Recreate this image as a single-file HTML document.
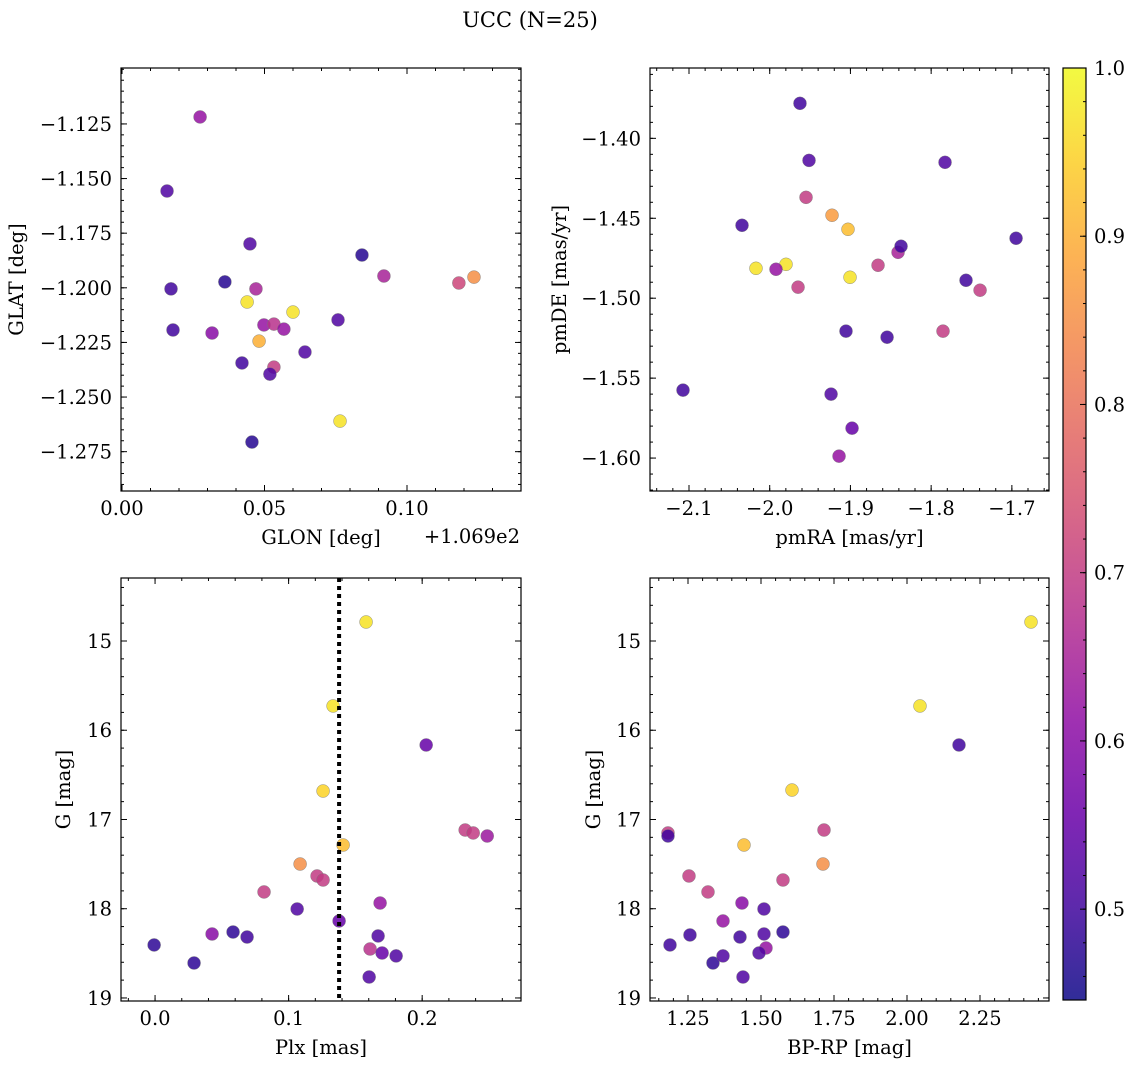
<!DOCTYPE html>
<html><head><meta charset="utf-8"><style>
body{margin:0;background:#fff;}
svg{display:block;font-family:"DejaVu Serif","Liberation Serif",serif;}
</style></head><body>
<svg id="fig" width="1136" height="1068" viewBox="0 0 1136 1068">
<text x="530" y="27" font-size="21" text-anchor="middle">UCC (N=25)</text>
</svg>
<script>
// Panel 1: GLON offset vs GLAT
const p1x=[0.0274,0.0158,0.0172,0.0179,0.0361,0.0449,0.0439,0.0470,0.0316,0.0498,0.0533,0.0568,0.0481,0.0421,0.0533,0.0519,0.0600,0.0642,0.0456,0.0758,0.0765,0.0842,0.0919,0.1182,0.1235];
const p1y=[-1.1218,-1.1557,-1.2005,-1.2193,-1.1973,-1.1799,-1.2065,-1.2005,-1.2207,-1.2170,-1.2166,-1.2189,-1.2244,-1.2344,-1.2363,-1.2395,-1.2111,-1.2294,-1.2706,-1.2147,-1.2610,-1.1850,-1.1946,-1.1978,-1.1951];
const p1c=[0.62,0.52,0.5,0.5,0.47,0.52,0.97,0.65,0.6,0.62,0.68,0.62,0.9,0.5,0.7,0.52,0.97,0.52,0.47,0.52,0.97,0.47,0.65,0.72,0.85];
// Panel 2: pmRA vs pmDE
const p2x=[-1.9625,-1.9513,-1.7828,-1.955,-2.0343,-1.9228,-1.903,-2.017,-1.9798,-1.9922,-1.9649,-1.9005,-1.8658,-1.841,-1.8373,-1.6948,-1.7568,-1.7394,-1.9055,-1.7853,-1.8546,-1.924,-1.898,-1.9141,-2.1074];
const p2y=[-1.3781,-1.4138,-1.415,-1.4369,-1.4544,-1.4481,-1.4569,-1.4813,-1.4788,-1.4819,-1.4931,-1.4869,-1.4794,-1.4713,-1.4675,-1.4625,-1.4888,-1.495,-1.5206,-1.5206,-1.5244,-1.56,-1.5813,-1.5988,-1.5575];
const p2c=[0.5,0.52,0.52,0.7,0.5,0.87,0.92,0.97,0.97,0.62,0.7,0.97,0.7,0.65,0.5,0.5,0.5,0.7,0.5,0.7,0.5,0.52,0.55,0.62,0.5];
// Panel 3: Plx vs G
const p3x=[0.158,0.1333,0.203,0.1258,0.1408,0.2322,0.2382,0.2487,0.1086,0.1213,0.1258,0.0816,0.1064,0.1685,0.1378,-0.0007,0.0427,0.0584,0.0689,0.0292,0.161,0.167,0.17,0.1805,0.1603];
const p3y=[14.787,15.728,16.165,16.681,17.286,17.118,17.151,17.185,17.499,17.633,17.678,17.812,18.003,17.936,18.137,18.406,18.283,18.261,18.317,18.608,18.451,18.305,18.496,18.529,18.765];
const p3c=[0.97,0.97,0.55,0.95,0.92,0.7,0.7,0.63,0.85,0.7,0.7,0.7,0.52,0.62,0.55,0.48,0.6,0.48,0.5,0.48,0.68,0.52,0.55,0.52,0.52];
const plxLine=0.1378;
// Panel 4: BP-RP vs G
const p4x=[2.4247,2.0445,2.1781,1.6062,1.4418,1.7158,1.1815,1.1815,1.7123,1.2534,1.5753,1.3185,1.5103,1.4349,1.3699,1.1884,1.2568,1.4281,1.5103,1.5753,1.5171,1.4932,1.3356,1.3699,1.4384];
const p4y=[14.787,15.728,16.165,16.67,17.286,17.118,17.151,17.185,17.499,17.633,17.678,17.812,18.003,17.936,18.137,18.406,18.294,18.317,18.283,18.261,18.44,18.496,18.608,18.529,18.765];
const p4c=[0.97,0.97,0.5,0.95,0.92,0.7,0.7,0.5,0.85,0.7,0.7,0.7,0.52,0.6,0.62,0.5,0.5,0.5,0.52,0.48,0.62,0.52,0.48,0.52,0.52];
const p1xt=[0,0.05,0.10], p1xl=["0.00","0.05","0.10"];
const p1yt=[-1.125,-1.15,-1.175,-1.2,-1.225,-1.25,-1.275], p1yl=["−1.125","−1.150","−1.175","−1.200","−1.225","−1.250","−1.275"];
const p2xt=[-2.1,-2.0,-1.9,-1.8,-1.7], p2xl=["−2.1","−2.0","−1.9","−1.8","−1.7"];
const p2yt=[-1.40,-1.45,-1.50,-1.55,-1.60], p2yl=["−1.40","−1.45","−1.50","−1.55","−1.60"];
const p3xt=[0,0.1,0.2], p3xl=["0.0","0.1","0.2"];
const gt=[15,16,17,18,19], gl=["15","16","17","18","19"];
const p4xt=[1.25,1.5,1.75,2.0,2.25], p4xl=["1.25","1.50","1.75","2.00","2.25"];
const cbt=[0.5,0.6,0.7,0.8,0.9,1.0], cbl=["0.5","0.6","0.7","0.8","0.9","1.0"];
const cmin=0.446,cmax=1.0;

const NS="http://www.w3.org/2000/svg";
const svg=document.getElementById('fig');
const FS=19.5;
function mk(tag,attrs,parent){const e=document.createElementNS(NS,tag);for(const k in attrs)e.setAttribute(k,attrs[k]);(parent||svg).appendChild(e);return e;}
const stops=["#0d0887","#41049d","#6a00a8","#8f0da4","#b12a90","#cc4778","#e16462","#f2844b","#fca636","#fcce25","#f0f921"];
function hex(h){return [1,3,5].map(i=>parseInt(h.substr(i,2),16));}
function plasma(t){t=Math.max(0,Math.min(1,t));const f=t*10,i=Math.min(9,Math.floor(f)),r=f-i;const a=hex(stops[i]),b=hex(stops[i+1]);return 'rgb('+a.map((v,k)=>Math.round(v+(b[k]-v)*r)).join(',')+')';}

function panel(o){
  const g=mk('g',{});
  
  
  const sx=v=>o.L+(v-o.x0)/(o.x1-o.x0)*(o.R-o.L);
  const sy=v=>o.T+(v-o.y0)/(o.y1-o.y0)*(o.B-o.T);
  for(let i=0;i<o.xs.length;i++){
    const c=mk('circle',{cx:sx(o.xs[i]),cy:sy(o.ys[i]),r:6.5,fill:plasma((o.cs[i]-cmin)/(cmax-cmin)),'fill-opacity':0.85,stroke:'#777','stroke-width':0.4},g);
    
    
  }
  if(o.vline!==undefined){
    const l=mk('line',{x1:sx(o.vline),x2:sx(o.vline),y1:o.T,y2:o.B,stroke:'#000','stroke-width':4,'stroke-dasharray':'4,4'},g);
    
    
  }
  const fr=mk('rect',{x:o.L,y:o.T,width:o.R-o.L,height:o.B-o.T,fill:'none',stroke:'#000','stroke-width':1.2},g);
  
  
  const eps=1e-9;
  let s=Math.ceil(Math.min(o.x0,o.x1)/o.xm-eps);
  for(let k=s;k*o.xm<=Math.max(o.x0,o.x1)+eps;k++){const X=sx(k*o.xm);mk('line',{x1:X,x2:X,y1:o.B,y2:o.B-3,stroke:'#000'},g);mk('line',{x1:X,x2:X,y1:o.T,y2:o.T+3,stroke:'#000'},g);}
  s=Math.ceil(Math.min(o.y0,o.y1)/o.ym-eps);
  for(let k=s;k*o.ym<=Math.max(o.y0,o.y1)+eps;k++){const Y=sy(k*o.ym);mk('line',{x1:o.L,x2:o.L+3,y1:Y,y2:Y,stroke:'#000'},g);mk('line',{x1:o.R,x2:o.R-3,y1:Y,y2:Y,stroke:'#000'},g);}
  o.xt.forEach((v,i)=>{const X=sx(v);mk('line',{x1:X,x2:X,y1:o.B,y2:o.B-6,stroke:'#000'},g);mk('line',{x1:X,x2:X,y1:o.T,y2:o.T+6,stroke:'#000'},g);
    const t=mk('text',{x:X,y:o.B+24,'font-size':FS,'text-anchor':'middle'},g);t.textContent=o.xl[i];
    
    });
  o.yt.forEach((v,i)=>{const Y=sy(v);mk('line',{x1:o.L,x2:o.L+6,y1:Y,y2:Y,stroke:'#000'},g);mk('line',{x1:o.R,x2:o.R-6,y1:Y,y2:Y,stroke:'#000'},g);
    const t=mk('text',{x:o.L-9,y:Y+7,'font-size':FS,'text-anchor':'end'},g);t.textContent=o.yl[i];
    
    });
  const xt=mk('text',{x:(o.L+o.R)/2,y:o.B+53,'font-size':FS,'text-anchor':'middle'},g);xt.textContent=o.xlab;
  
  
  const yt=mk('text',{x:o.ylx,y:(o.T+o.B)/2,'font-size':FS,'text-anchor':'middle',transform:'rotate(-90 '+o.ylx+' '+(o.T+o.B)/2+')'},g);yt.textContent=o.ylab;
  
  
}
panel({name:'glon-glat-panel',L:121,R:521,T:68,B:491,x0:-0.00035,x1:0.1400,y0:-1.0994,y1:-1.2930,xm:0.01,ym:0.005,xs:p1x,ys:p1y,cs:p1c,xt:p1xt,xl:p1xl,yt:p1yt,yl:p1yl,xlab:'GLON [deg]',ylab:'GLAT [deg]',ylx:23});
const off=mk('text',{x:520,y:543,'font-size':FS,'text-anchor':'end'});off.textContent='+1.069e2';


panel({name:'pm-panel',L:650,R:1049,T:68,B:491,x0:-2.1483,x1:-1.654,y0:-1.356,y1:-1.6206,xm:0.02,ym:0.01,xs:p2x,ys:p2y,cs:p2c,xt:p2xt,xl:p2xl,yt:p2yt,yl:p2yl,xlab:'pmRA [mas/yr]',ylab:'pmDE [mas/yr]',ylx:566});
panel({name:'plx-g-panel',L:121,R:521,T:578,B:1001,x0:-0.0255,x1:0.274,y0:14.294,y1:19.034,xm:0.02,ym:0.2,xs:p3x,ys:p3y,cs:p3c,vline:plxLine,xt:p3xt,xl:p3xl,yt:gt,yl:gl,xlab:'Plx [mas]',ylab:'G [mag]',ylx:70});
panel({name:'cmd-panel',L:650,R:1049,T:578,B:1001,x0:1.1199,x1:2.4863,y0:14.294,y1:19.034,xm:0.05,ym:0.2,xs:p4x,ys:p4y,cs:p4c,xt:p4xt,xl:p4xl,yt:gt,yl:gl,xlab:'BP-RP [mag]',ylab:'G [mag]',ylx:600});
(function(){
  const L=1063,R=1086,T=68,B=1000;
  const g=mk('g',{});
  
  
  const defs=mk('defs',{},g);
  const lg=mk('linearGradient',{id:'cbg',x1:0,y1:1,x2:0,y2:0},defs);
  for(let i=0;i<=20;i++){const f=i/20;mk('stop',{offset:f,'stop-color':plasma(f)},lg);}
  mk('rect',{x:L,y:T,width:R-L,height:B-T,fill:'url(#cbg)','fill-opacity':0.85},g);
  mk('rect',{x:L,y:T,width:R-L,height:B-T,fill:'none',stroke:'#000','stroke-width':1.2},g);
  const sy=v=>B-(v-cmin)/(cmax-cmin)*(B-T);
  for(let k=23;k<=50;k++){const v=k*0.02;if(v<cmin||v>cmax+1e-9)continue;const Y=sy(v);mk('line',{x1:R,x2:R-3,y1:Y,y2:Y,stroke:'#000'},g);}
  cbt.forEach((v,i)=>{const Y=sy(v);mk('line',{x1:R,x2:R-6,y1:Y,y2:Y,stroke:'#000'},g);
    const t=mk('text',{x:R+8,y:Y+7,'font-size':FS},g);t.textContent=cbl[i];
    
    });
})();
</script>
</body></html>
